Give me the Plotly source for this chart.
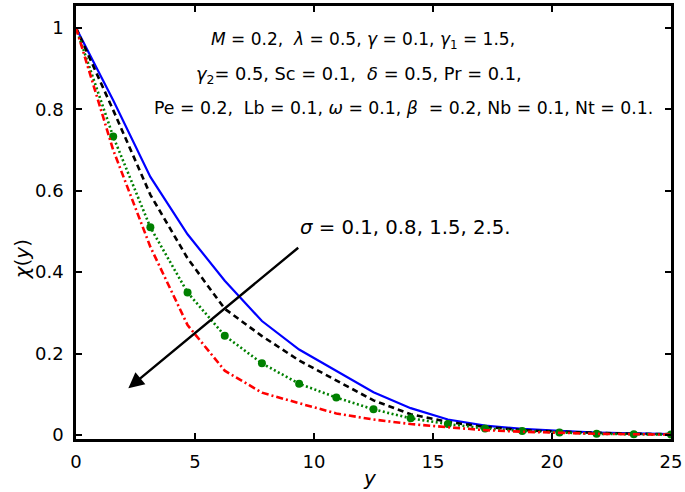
import plotly.graph_objects as go

# Data
y_vals = [0, 1.5625, 3.125, 4.6875, 6.25, 7.8125, 9.375, 10.9375, 12.5,
          14.0625, 15.625, 17.1875, 18.75, 20.3125, 21.875, 23.4375, 25]
chi_sigma_01 = [1.0, 0.822, 0.634, 0.493, 0.379, 0.280, 0.210, 0.157, 0.105,
                0.066, 0.038, 0.023, 0.015, 0.010, 0.006, 0.004, 0.002]
chi_sigma_08 = [1.0, 0.798, 0.590, 0.434, 0.310, 0.243, 0.183, 0.133, 0.085,
                0.051, 0.032, 0.020, 0.012, 0.008, 0.005, 0.003, 0.002]
chi_sigma_15 = [1.0, 0.733, 0.510, 0.350, 0.244, 0.176, 0.126, 0.092, 0.063,
                0.041, 0.027, 0.016, 0.010, 0.006, 0.003, 0.002, 0.001]
chi_sigma_25 = [1.0, 0.700, 0.462, 0.270, 0.158, 0.104, 0.078, 0.053, 0.038,
                0.027, 0.019, 0.012, 0.008, 0.005, 0.003, 0.002, 0.001]

x_ticks = [0, 5, 10, 15, 20, 25]
x_tick_labels = ["0", "5", "10", "15", "20", "25"]
y_ticks = [0, 0.2, 0.4, 0.6, 0.8, 1.0]
y_tick_labels = ["0", "0.2", "0.4", "0.6", "0.8", "1"]

FONT = "DejaVu Sans"
NB = "\u00a0"

fig = go.Figure()
fig.add_trace(go.Scatter(x=y_vals, y=chi_sigma_01, mode="lines",
                         line=dict(color="#0000FF", width=2.2)))
fig.add_trace(go.Scatter(x=y_vals, y=chi_sigma_08, mode="lines",
                         line=dict(color="#000000", width=2.6, dash="6px,4px")))
fig.add_trace(go.Scatter(x=y_vals, y=chi_sigma_15, mode="lines",
                         line=dict(color="#008000", width=2.6, dash="2px,2.5px")))
fig.add_trace(go.Scatter(x=y_vals[1:], y=chi_sigma_15[1:], mode="markers",
                         marker=dict(color="#008000", size=8)))
fig.add_trace(go.Scatter(x=y_vals, y=chi_sigma_25, mode="lines",
                         line=dict(color="#FF0000", width=2.6, dash="7px,3px,2px,3px")))

L, R, T, B = 76, 672, 3, 439
W, H = 685, 492

def px(xp):
    return (xp - L) / (R - L)

def py(yp):
    return (B - yp) / (B - T)

tf = dict(family=FONT, size=17, color="black")
annotations = [
    dict(x=px(363), y=py(38), xref="paper", yref="paper", showarrow=False,
         text="<i>M</i> = 0.2," + NB + " <i>λ</i> = 0.5, <i>γ</i> = 0.1, <i>γ</i><sub>1</sub> = 1.5,",
         font=tf, xanchor="center", yanchor="middle"),
    dict(x=px(359), y=py(72), xref="paper", yref="paper", showarrow=False,
         text="<i>γ</i><sub>2</sub>= 0.5, Sc = 0.1," + NB + " <i>δ</i> = 0.5, Pr = 0.1,",
         font=dict(family=FONT, size=17.8, color="black"), xanchor="center", yanchor="middle"),
    dict(x=px(404), y=py(106), xref="paper", yref="paper", showarrow=False,
         text="Pe = 0.2," + NB + " Lb = 0.1, <i>ω</i> = 0.1, <i>β</i>" + NB + " = 0.2, Nb = 0.1, Nt = 0.1.",
         font=dict(family=FONT, size=17.3, color="black"), xanchor="center", yanchor="middle"),
    dict(x=px(406), y=py(226), xref="paper", yref="paper", showarrow=False,
         text="<i>σ</i> = 0.1, 0.8, 1.5, 2.5.",
         font=dict(family=FONT, size=19.7, color="black"), xanchor="center", yanchor="middle"),
    # arrow
    dict(x=2.2, y=0.115, ax=9.4, ay=0.463, xref="x", yref="y", axref="x", ayref="y",
         showarrow=True, arrowhead=2, arrowsize=1.3, arrowwidth=2.4, arrowcolor="black",
         text=""),
    # axis titles
    dict(x=px(370), y=py(478), xref="paper", yref="paper", showarrow=False,
         text="<i>y</i>", font=dict(family=FONT, size=20, color="black"),
         xanchor="center", yanchor="middle"),
    dict(x=px(22), y=py(258), xref="paper", yref="paper", showarrow=False,
         text="<i>χ</i>(<i>y</i>)", textangle=-90,
         font=dict(family=FONT, size=20, color="black"),
         xanchor="center", yanchor="middle"),
]

axis_common = dict(showgrid=False, zeroline=False, showline=True, linecolor="black",
                   linewidth=2.5, mirror="ticks", ticks="inside", ticklen=6,
                   tickwidth=2, tickcolor="black",
                   tickfont=dict(family=FONT, size=18, color="black"))

fig.update_layout(
    width=W, height=H,
    margin=dict(l=L, r=W - R, t=T, b=H - B, pad=0),
    paper_bgcolor="white", plot_bgcolor="white",
    showlegend=False,
    xaxis=dict(range=[0, 25], tickvals=x_ticks, ticktext=x_tick_labels,
               ticklabelstandoff=5, **axis_common),
    yaxis=dict(range=[-0.0098, 1.0537], tickvals=y_ticks, ticktext=y_tick_labels,
               ticklabelstandoff=6, **axis_common),
    annotations=annotations,
)

fig.write_html("out.html", config={"displayModeBar": False},
               post_script="document.body.style.margin='0px';document.body.style.padding='0px';")
